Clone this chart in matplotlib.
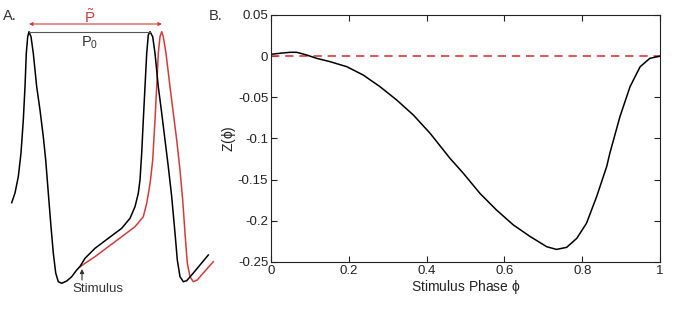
import numpy as np
import matplotlib
matplotlib.use("Agg")
import matplotlib.pyplot as plt

plt.rcParams['font.family'] = ['Liberation Sans', 'DejaVu Sans']
plt.rcParams['mathtext.fontset'] = 'custom'
plt.rcParams['mathtext.rm'] = 'Liberation Sans'
plt.rcParams['mathtext.it'] = 'Liberation Sans:italic'

RED = '#d23b3b'

# Panel A: membrane traces (arbitrary units; y grows downward)
black_t = [11.7, 15, 18.3, 21, 23.3, 25, 26.3, 27.7, 29, 31,
           33.3, 36.7, 40, 43.3, 45.7, 48.3, 51, 53.3, 55.7, 58.3,
           61.7, 66.7, 71.7, 76.7, 80, 85, 95, 108.3, 121.7, 130,
           135, 138.3, 140, 141.7, 143.3, 145, 146.7, 148.3, 150, 152.7,
           155, 158.3, 161.7, 165, 168.3, 171.7, 175, 177.3, 180, 183.3,
           186.7, 191.7, 200, 208.3]
black_v = [202.7, 193, 176.7, 153, 120, 86.7, 53.3, 36.7, 31.7, 36.7,
           53.3, 86.7, 110, 136.7, 160, 193, 226.7, 253, 273, 281.7,
           283.3, 281, 276.7, 270, 266.5, 258.3, 248.3, 238.3, 228.3, 218.3,
           206.7, 193.3, 180, 153, 120, 86.7, 53.3, 35, 31.7, 36.7,
           53.3, 86.7, 113, 140, 166.7, 196.7, 233, 260, 276.7, 281.7,
           280.7, 275, 265, 255]
red_t = [80, 85, 95, 108.3, 121.7, 135, 143.3, 146.7, 149, 150.5,
         152.7, 155, 156.7, 158.3, 160, 161.7, 163.3, 166, 170, 173.3,
         176.7, 180, 182.7, 185, 187.3, 190, 193.3, 197.3, 203.3, 213.3]
red_v = [266.8, 263.3, 256.7, 246.7, 236.7, 226.7, 216.7, 203.3, 190, 180,
         160, 120, 86.7, 53.3, 36.7, 31.7, 36.7, 53.3, 86.7, 113,
         140, 170, 200, 233, 263, 276.7, 281.7, 280, 273, 261.7]

# Panel B: phase response curve
phase = [0.0, 0.023, 0.049, 0.066, 0.092, 0.117, 0.152, 0.195, 0.237, 0.28,
         0.323, 0.366, 0.409, 0.46, 0.494, 0.537, 0.58, 0.623, 0.666, 0.709,
         0.734, 0.76, 0.786, 0.811, 0.837, 0.863, 0.871, 0.897, 0.923, 0.949,
         0.974, 1.0]
Z = [0.0023, 0.0035, 0.0047, 0.0047, 0.0014, -0.0026, -0.0067, -0.0128,
     -0.0229, -0.037, -0.0532, -0.0715, -0.0937, -0.124, -0.142, -0.1666,
     -0.187, -0.205, -0.219, -0.2315, -0.2347, -0.2322, -0.2213, -0.203,
     -0.1707, -0.134, -0.118, -0.0735, -0.037, -0.0128, -0.0026, 0.0]
xticks = [0, 0.2, 0.4, 0.6, 0.8, 1]
xticklabels = ['0', '0.2', '0.4', '0.6', '0.8', '1']
yticks = [-0.25, -0.2, -0.15, -0.1, -0.05, 0, 0.05]
yticklabels = ['-0.25', '-0.2', '-0.15', '-0.1', '-0.05', '0', '0.05']

fig = plt.figure(figsize=(6.85, 3.21), dpi=100)

# ---- Panel A ----
axA = fig.add_axes([0, 0, 230/685, 1])
axA.set_xlim(0, 230)
axA.set_ylim(321, 0)
axA.axis('off')
axA.plot(red_t, red_v, color=RED, lw=1.1, solid_joinstyle='round')
axA.plot(black_t, black_v, color='black', lw=1.1, solid_joinstyle='round')
# P0 bar
axA.plot([29, 150], [31.5, 31.5], color='#555555', lw=0.8)
# P~ double arrow
axA.annotate('', xy=(29, 24), xytext=(162, 24),
             arrowprops=dict(arrowstyle='<|-|>', color=RED, lw=0.8,
                             mutation_scale=5, shrinkA=0, shrinkB=0))
axA.text(90, 17, r'$\tilde{\mathrm{P}}$', color=RED, fontsize=11,
         ha='center', va='center')
axA.text(90, 43, r'P$_0$', color='#333333', fontsize=10.5, ha='center', va='center')
axA.annotate('', xy=(82, 269), xytext=(82, 280),
             arrowprops=dict(arrowstyle='-|>', color='#333333', lw=0.8,
                             mutation_scale=6, shrinkA=0, shrinkB=0))
axA.text(98, 289, 'Stimulus', color='#333333', fontsize=9.5, ha='center', va='center')
fig.text(3/685, 1 - 16/321, 'A.', fontsize=10.5, color='#333333', ha='left', va='center')
fig.text(209/685, 1 - 16/321, 'B.', fontsize=10.5, color='#333333', ha='left', va='center')

# ---- Panel B ----
axB = fig.add_axes([271/685, 1 - 262/321, 389/685, 247/321])
axB.plot([0, 1], [0, 0], color=RED, lw=1.2, ls=(0, (5, 3.5)))
axB.plot(phase, Z, color='black', lw=1.1)
axB.set_xlim(0, 1)
axB.set_ylim(-0.25, 0.05)
axB.set_xticks(xticks)
axB.set_xticklabels(xticklabels)
axB.set_yticks(yticks)
axB.set_yticklabels(yticklabels)
axB.tick_params(direction='in', top=True, right=True, length=4, width=0.8,
                labelsize=9.5, pad=2, colors='#222222')
for s in axB.spines.values():
    s.set_linewidth(0.8)
    s.set_color('#222222')
axB.set_xlabel(r'Stimulus Phase $\mathrm{\phi}$', fontsize=10, labelpad=1, color='#222222')
axB.set_ylabel(r'Z($\mathrm{\phi}$)', fontsize=10, labelpad=0, color='#222222')

fig.savefig('out.png', dpi=100)
